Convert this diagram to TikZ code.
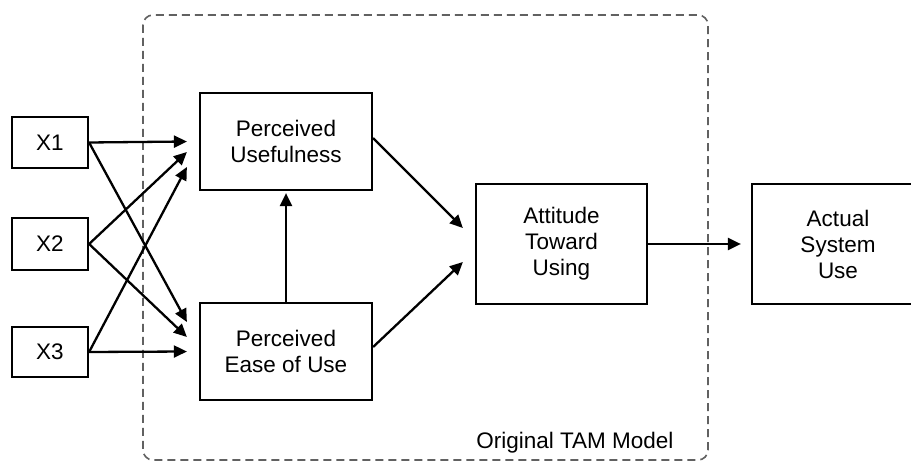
\documentclass[tikz,border=0pt]{standalone}
\usepackage{fontspec}
\setmainfont{Liberation Sans}
\usetikzlibrary{arrows.meta}
\begin{document}
\begin{tikzpicture}[x=1pt,y=-1pt,
  box/.style={draw=black,line width=2.2pt,rectangle,inner sep=0pt,align=center,
    font=\fontsize{22.5}{26}\selectfont},
  conn/.style={line width=2.3pt,-{Triangle[length=13pt,width=12pt]}},
  tam/.style={draw=black!62,line width=1.6pt,dash pattern=on 8pt off 5pt,rounded corners=10pt}]
\useasboundingbox (0,0) rectangle (911,462);
\clip (0,0) rectangle (911,462);
\fill[white] (0,0) rectangle (911,462);
% dashed frame
\draw[tam] (143,15) rectangle (708,460);
\node[anchor=base east,font=\fontsize{22.5}{26}\selectfont] (lbl) at (677,448) {Original TAM Model};
% nodes
\node[box,minimum width=76pt,minimum height=51pt] (x1) at (50,142.5) {X1};
\node[box,minimum width=76pt,minimum height=52pt] (x2) at (50,244) {X2};
\node[box,minimum width=76pt,minimum height=50pt] (x3) at (50,352) {X3};
\node[box,minimum width=172pt,minimum height=97pt] (pu) at (286,141.5) {Perceived\\Usefulness};
\node[box,minimum width=172pt,minimum height=97pt] (peou) at (286,351.5) {Perceived\\Ease of Use};
\node[box,minimum width=171pt,minimum height=120pt] (atu) at (561.5,244) {Attitude\\Toward\\Using};
\node[box,minimum width=172pt,minimum height=120pt] (asu) at (838,244) {Actual\\System\\Use};
% connectors
\draw[conn] (x1.east) -- ([xshift=-12pt]pu.west);
\draw[conn] (x2.east) -- ([xshift=-12pt,yshift=-10.5pt]pu.west);
\draw[conn] (x3.east) -- ([xshift=-12pt,yshift=-25.5pt]pu.west);
\draw[conn] (x1.east) -- ([xshift=-12pt,yshift=29.5pt]peou.west);
\draw[conn] (x2.east) -- ([xshift=-12pt,yshift=14.5pt]peou.west);
\draw[conn] (x3.east) -- ([xshift=-12pt]peou.west);
\draw[conn] (peou.north) -- ([yshift=-2pt]pu.south);
\draw[conn] ([yshift=3.5pt]pu.east) -- ([xshift=-12pt,yshift=16pt]atu.west);
\draw[conn] ([yshift=4.5pt]peou.east) -- ([xshift=-12pt,yshift=-18pt]atu.west);
\draw[conn] (atu.east) -- ([xshift=-10pt]asu.west);
\end{tikzpicture}
\end{document}
